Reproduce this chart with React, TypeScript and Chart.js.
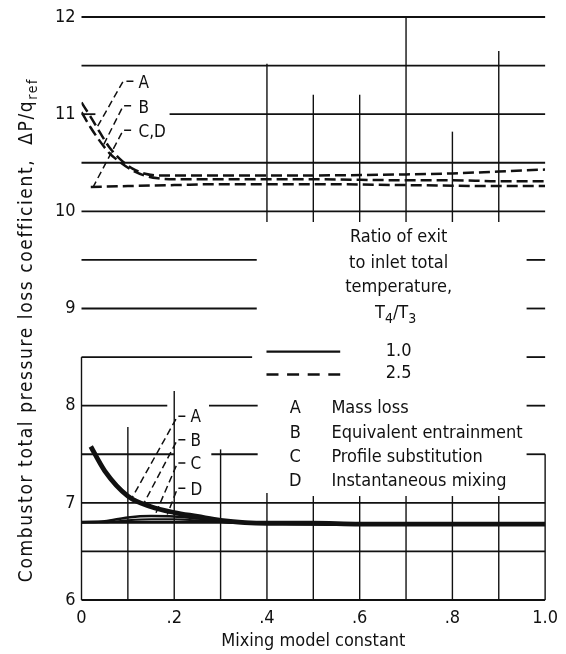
import React, { useEffect, useRef } from "react";
import { Chart, registerables } from "chart.js";
Chart.register(...registerables);

// ---------- axes ----------
const xTicks = [0, 0.2, 0.4, 0.6, 0.8, 1.0];
const xTickLabels = ["0", ".2", ".4", ".6", ".8", "1.0"];
const yTicks = [6, 7, 8, 9, 10, 11, 12];
const yTickLabels = ["6", "7", "8", "9", "10", "11", "12"];

// ---------- T4/T3 = 1.0 (solid) ----------
const lowAX = [0.02, 0.05, 0.1, 0.15, 0.2, 0.25, 0.3, 0.4, 0.5, 0.6, 0.8, 1.0];
const lowA = [7.58, 7.33, 7.07, 6.96, 6.9, 6.86, 6.82, 6.79, 6.79, 6.78, 6.78, 6.78];
const lowX = [0, 0.05, 0.1, 0.15, 0.2, 0.25, 0.3, 0.4, 0.6, 0.8, 1.0];
const lowB = [6.8, 6.81, 6.85, 6.865, 6.86, 6.84, 6.82, 6.79, 6.78, 6.78, 6.78];
const lowC = [6.8, 6.8, 6.82, 6.83, 6.83, 6.82, 6.81, 6.79, 6.78, 6.78, 6.78];
const lowD = [6.8, 6.8, 6.8, 6.8, 6.8, 6.8, 6.8, 6.79, 6.78, 6.78, 6.78];

// ---------- T4/T3 = 2.5 (dashed) ----------
const highX = [0, 0.02, 0.04, 0.06, 0.085, 0.11, 0.135, 0.165, 0.2, 0.3, 0.5, 0.7, 0.8, 0.9, 1.0];
const highA = [11.12, 10.97, 10.81, 10.66, 10.53, 10.44, 10.39, 10.37, 10.37, 10.37, 10.37, 10.38, 10.39, 10.41, 10.43];
const highB = [11.02, 10.86, 10.72, 10.6, 10.5, 10.42, 10.37, 10.34, 10.33, 10.33, 10.33, 10.32, 10.32, 10.31, 10.31];
const highCDX = [0.02, 0.1, 0.2, 0.3, 0.5, 0.7, 0.9, 1.0];
const highCD = [10.25, 10.26, 10.27, 10.28, 10.28, 10.27, 10.26, 10.26];

// ---------- curve labels with leader lines ----------
const leaderText = ["A", "B", "C,D", "A", "B", "C", "D"];
const leaderTipX = [0.033, 0.047, 0.025, 0.11, 0.135, 0.16, 0.185];
const leaderTipY = [10.86, 10.68, 10.25, 7.06, 7.0, 6.89, 6.88];
const leaderElbowX = [0.09, 0.09, 0.09, 0.207, 0.207, 0.207, 0.207];
const leaderEndX = [0.112, 0.107, 0.107, 0.224, 0.224, 0.224, 0.224];
const leaderY = [11.34, 11.086, 10.835, 7.89, 7.65, 7.41, 7.15];
const labelX = [0.123, 0.123, 0.123, 0.235, 0.235, 0.235, 0.235];
const labelY = [11.31, 11.06, 10.81, 7.88, 7.63, 7.39, 7.13];

// ---------- broken grid (scanned figure) ----------
const hSegY = [12, 11.5, 11, 11, 10.5, 10, 9.5, 9.5, 9, 9, 8.5, 8.5, 8, 8, 8, 7.5, 7.5, 7.5, 7, 6.5, 6];
const hSegX0 = [0, 0, 0, 0.19, 0, 0, 0, 0.96, 0, 0.96, 0, 0.96, 0, 0.275, 0.96, 0, 0.28, 0.96, 0, 0, 0];
const hSegX1 = [1, 1, 0.03, 1, 1, 1, 0.378, 1, 0.378, 1, 0.368, 1, 0.185, 0.38, 1, 0.2, 0.38, 1, 1, 1, 1];
const vSegX = [0, 0.1, 0.2, 0.3, 0.4, 0.5, 0.6, 0.7, 0.8, 0.9, 1.0, 0.4, 0.5, 0.6, 0.7, 0.8, 0.9];
const vSegY0 = [6, 6, 6, 6, 6, 6, 6, 6, 6, 6, 6, 9.89, 9.89, 9.89, 9.89, 9.89, 9.89];
const vSegY1 = [8.5, 7.78, 8.15, 7.55, 7.1, 7.07, 7.07, 7.07, 7.07, 7.07, 7.5, 11.52, 11.2, 11.2, 12, 10.82, 11.65];

// ---------- legend ----------
const legendTitle = ["Ratio of exit", "to inlet total", "temperature,"];
const legendRatios = ["1.0", "2.5"];
const legendKeys = ["A", "B", "C", "D"];
const legendNames = ["Mass loss", "Equivalent entrainment", "Profile substitution", "Instantaneous mixing"];

const FAMILY = '"DejaVu Sans Condensed", "Liberation Sans Narrow", "Roboto Condensed", "DejaVu Sans", sans-serif';
const INK = "#111";

const pts = (xs: number[], ys: number[]) => xs.map((x, i) => ({ x, y: ys[i] }));

type Part = [string, boolean];
function richWidth(ctx: CanvasRenderingContext2D, parts: Part[], size: number, sub: number) {
  let w = 0;
  for (const [t, s] of parts) {
    ctx.font = `${s ? sub : size}px ${FAMILY}`;
    w += ctx.measureText(t).width;
  }
  return w;
}
function drawRich(ctx: CanvasRenderingContext2D, parts: Part[], x: number, y: number, size: number, sub: number, shift: number) {
  let cx = x;
  ctx.textBaseline = "alphabetic";
  ctx.textAlign = "left";
  for (const [t, s] of parts) {
    ctx.font = `${s ? sub : size}px ${FAMILY}`;
    ctx.fillText(t, cx, s ? y + shift : y);
    cx += ctx.measureText(t).width;
  }
}

const figurePlugin = {
  id: "figure",
  beforeDatasetsDraw(chart: any) {
    const { ctx, scales } = chart;
    const xs = scales.x, ys = scales.y;
    ctx.save();
    ctx.strokeStyle = INK;
    ctx.lineWidth = 1.8;
    for (let i = 0; i < hSegY.length; i++) {
      const py = ys.getPixelForValue(hSegY[i]);
      ctx.beginPath();
      ctx.moveTo(xs.getPixelForValue(hSegX0[i]), py);
      ctx.lineTo(xs.getPixelForValue(hSegX1[i]), py);
      ctx.stroke();
    }
    ctx.lineWidth = 1.4;
    for (let i = 0; i < vSegX.length; i++) {
      const px = xs.getPixelForValue(vSegX[i]);
      ctx.beginPath();
      ctx.moveTo(px, ys.getPixelForValue(vSegY0[i]));
      ctx.lineTo(px, ys.getPixelForValue(vSegY1[i]));
      ctx.stroke();
    }
    ctx.restore();
  },
  afterDatasetsDraw(chart: any) {
    const { ctx, scales } = chart;
    const xs = scales.x, ys = scales.y;
    const X = (v: number) => xs.getPixelForValue(v);
    const Y = (v: number) => ys.getPixelForValue(v);
    ctx.save();
    ctx.fillStyle = INK;
    ctx.strokeStyle = INK;

    // curve labels
    ctx.font = `17px ${FAMILY}`;
    ctx.textAlign = "left";
    ctx.textBaseline = "middle";
    for (let i = 0; i < leaderText.length; i++) {
      ctx.fillText(leaderText[i], X(labelX[i]), Y(labelY[i]));
    }

    // legend title
    ctx.font = `18px ${FAMILY}`;
    ctx.textAlign = "center";
    const lgX = X(0.684);
    const titleY = [9.73, 9.47, 9.22];
    legendTitle.forEach((t, i) => ctx.fillText(t, lgX, Y(titleY[i])));
    const tParts: Part[] = [["T", false], ["4", true], ["/T", false], ["3", true]];
    const tw = richWidth(ctx, tParts, 18, 14);
    drawRich(ctx, tParts, lgX - 3 - tw / 2, Y(8.96) + 6, 18, 14, 5);

    // legend samples
    ctx.font = `18px ${FAMILY}`;
    ctx.textAlign = "center";
    ctx.textBaseline = "middle";
    const ratioY = [8.556, 8.33];
    legendRatios.forEach((t, i) => ctx.fillText(t, lgX, Y(ratioY[i])));
    ctx.lineWidth = 2.2;
    ctx.beginPath();
    ctx.moveTo(X(0.399), Y(8.556));
    ctx.lineTo(X(0.558), Y(8.556));
    ctx.stroke();
    ctx.lineWidth = 2.5;
    ctx.setLineDash([12, 8.6]);
    ctx.beginPath();
    ctx.moveTo(X(0.399), Y(8.32));
    ctx.lineTo(X(0.558), Y(8.32));
    ctx.stroke();
    ctx.setLineDash([]);

    // legend keys
    const keyY = [7.97, 7.72, 7.47, 7.22];
    legendKeys.forEach((k, i) => {
      ctx.textAlign = "center";
      ctx.fillText(k, X(0.461), Y(keyY[i]));
      ctx.textAlign = "left";
      ctx.fillText(legendNames[i], X(0.539), Y(keyY[i]));
    });

    // y axis title (rotated, with subscript)
    (ctx as any).letterSpacing = "1.6px";
    const yParts: Part[] = [["Combustor total pressure loss coefficient,  \u0394P/q", false], ["ref", true]];
    const yw = richWidth(ctx, yParts, 19, 14);
    ctx.translate(32, 330);
    ctx.rotate(-Math.PI / 2);
    drawRich(ctx, yParts, -yw / 2, 0, 19, 14, 5);
    ctx.restore();
  },
};

export default function App() {
  const ref = useRef<HTMLCanvasElement>(null);
  useEffect(() => {
    const canvas = ref.current!;
    const solid = (data: any, w: number) => ({
      data, borderColor: INK, borderWidth: w, pointRadius: 0, fill: false,
      cubicInterpolationMode: "monotone" as const,
    });
    const dashed = (data: any, w: number) => ({
      ...solid(data, w), borderDash: [11, 5],
    });
    const leaders = leaderText.map((_, i) => ({
      data: [
        { x: leaderEndX[i], y: leaderY[i] },
        { x: leaderElbowX[i], y: leaderY[i] },
        { x: leaderTipX[i], y: leaderTipY[i] },
      ],
      borderColor: INK, borderWidth: 1.5, borderDash: [7, 4], pointRadius: 0, tension: 0, fill: false,
    }));
    const chart = new Chart(canvas, {
      type: "line",
      data: {
        datasets: [
          solid(pts(lowAX, lowA), 4.8),
          solid(pts(lowX, lowB), 2.5),
          solid(pts(lowX, lowC), 2),
          solid(pts(lowX, lowD), 3),
          dashed(pts(highX, highA), 2.5),
          dashed(pts(highX, highB), 2.5),
          dashed(pts(highCDX, highCD), 2.5),
          ...leaders,
        ] as any,
      },
      options: {
        responsive: false,
        animation: false,
        devicePixelRatio: 1,
        layout: { padding: { top: 17, right: 18, left: 0, bottom: 0 } },
        plugins: { legend: { display: false }, tooltip: { enabled: false } },
        scales: {
          x: {
            type: "linear", min: 0, max: 1,
            grid: { display: false, drawTicks: false },
            border: { display: false },
            afterBuildTicks: (s: any) => { s.ticks = xTicks.map((v) => ({ value: v })); },
            afterFit: (s: any) => { s.height = 54; },
            ticks: {
              autoSkip: false, maxRotation: 0, padding: 8, color: INK,
              font: { family: FAMILY, size: 18 },
              callback: (_v: any, i: number) => xTickLabels[i],
            },
            title: {
              display: true, text: "Mixing model constant", color: INK,
              font: { family: FAMILY, size: 18 }, padding: { top: 0, bottom: 2 },
            },
          },
          y: {
            type: "linear", min: 6, max: 12,
            grid: { display: false, drawTicks: false },
            border: { display: false },
            afterBuildTicks: (s: any) => { s.ticks = yTicks.map((v) => ({ value: v })); },
            afterFit: (s: any) => { s.width = 81.5; },
            ticks: {
              autoSkip: false, padding: 6, color: INK,
              font: { family: FAMILY, size: 18 },
              callback: (_v: any, i: number) => yTickLabels[i],
            },
          },
        },
      } as any,
      plugins: [figurePlugin],
    });
    return () => chart.destroy();
  }, []);
  return (
    <div style={{ position: "absolute", left: 0, top: 0, width: 566, height: 654, background: "#fff" }}>
      <canvas ref={ref} width={566} height={654} style={{ display: "block", width: 566, height: 654 }} />
    </div>
  );
}
